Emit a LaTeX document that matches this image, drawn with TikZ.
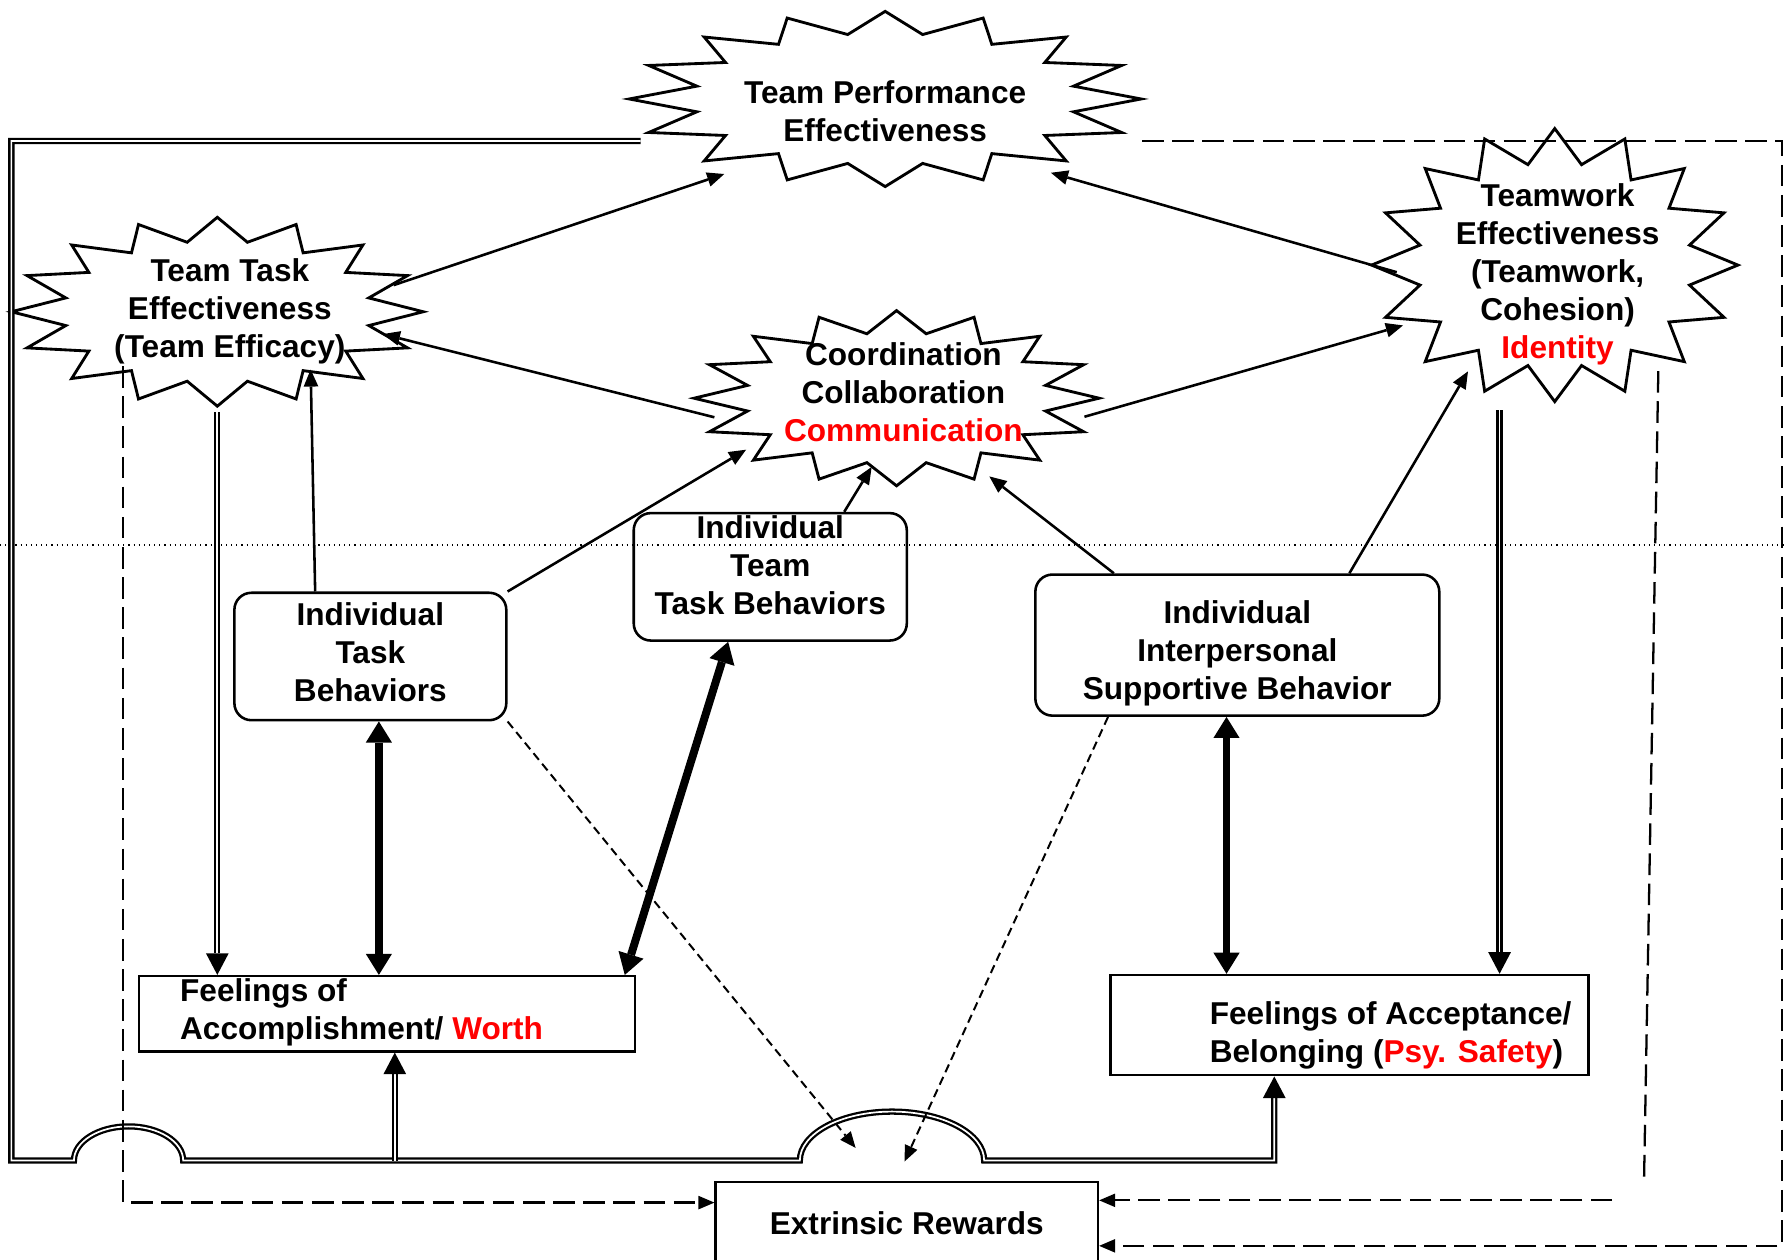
\documentclass[tikz,border=0pt]{standalone}
\usepackage{fontspec}
\setmainfont{Liberation Sans}
\usetikzlibrary{shapes.geometric,arrows.meta}

\tikzset{
  burst/.style={ellipse, inner sep=0pt},
  burstline/.style={line width=0.5mm},
  bursttext/.style={align=center, inner sep=0pt},
  behavbox/.style={draw, rounded corners=3mm, line width=0.45mm, align=center, inner sep=0pt},
  feelbox/.style={draw, line width=0.45mm, inner sep=0pt},
  feeltext/.style={align=left, inner sep=0pt, anchor=west},
  link/.style={line width=0.45mm, -{Triangle[length=3mm,width=2.6mm,line width=0pt]}},
  fatlink/.style={line width=1.4mm, {Triangle[length=3.7mm,width=4.6mm,line width=0pt]}-{Triangle[length=3.7mm,width=4.6mm,line width=0pt]}},
  dbl/.style={double, double distance=0.3mm, line width=0.4mm},
  dbltip/.style={-{Triangle[length=3.8mm,width=4mm,line width=0pt]}},
  longdash/.style={line width=0.4mm, dash pattern=on 3.8mm off 1.5mm},
  shortdash/.style={line width=0.35mm, dash pattern=on 1.5mm off 0.9mm},
  dashtip/.style={-{Triangle[length=2.8mm,width=2.4mm,line width=0pt]}}
}

% 16-point burst round a node: name, x radius, y radius
\newcommand\drawburst[3]{%
  \draw[burstline] ([shift={(90:#2 and #3)}]#1.center)
    \foreach \k [evaluate=\k as \rr using {1-0.25*mod(\k,2)}] in {1,...,31}
      { -- ([shift={({90+11.25*\k}:{#2*\rr} and {#3*\rr})}]#1.center) } -- cycle;
}

\begin{document}
\begin{tikzpicture}[x=0.2mm, y=-0.2mm, font=\fontsize{15.8}{19}\selectfont\bfseries]
  \useasboundingbox (0,0) rectangle (1568,1106.6);

  \draw[dotted, line width=0.2mm] (0,479) -- (1568,479);

  % outcomes
  \node[burst, minimum width=95.4mm, minimum height=32.6mm] (tpe) at (778,87) {};
  \node[burst, minimum width=76.8mm, minimum height=35.2mm] (tte) at (191,274) {};
  \node[burst, minimum width=75.5mm, minimum height=32.6mm] (ccc) at (788,350) {};
  \node[burst, minimum width=68.3mm, minimum height=50.9mm] (twe) at (1366.5,233) {};
  \drawburst{tpe}{225}{77}
  \drawburst{tte}{181}{83}
  \drawburst{ccc}{178}{77}
  \drawburst{twe}{161}{120}
  \node[bursttext] (tpe-t) at (778,98) {Team Performance\\Effectiveness};
  \node[bursttext] (tte-t) at (202,274) {Team Task\\Effectiveness\\(Team Efficacy)};
  \node[bursttext] (ccc-t) at (794,345) {Coordination\\Collaboration\\\textcolor{red}{Communication}};
  \node[bursttext] (twe-t) at (1369,241) {Teamwork\\Effectiveness\\(Teamwork,\\Cohesion)\\\textcolor{red}{Identity}};

  % behaviors
  \node[behavbox, minimum width=47.8mm, minimum height=22.4mm, text depth=1.6mm] (itb) at (325.5,577) {Individual\\Task\\Behaviors};
  \node[behavbox, minimum width=48mm, minimum height=22.4mm, text depth=4.2mm] (ittb) at (677,507) {Individual\\Team\\Task Behaviors};
  \node[behavbox, minimum width=71mm, minimum height=24.8mm, text height=20.3mm] (iisb) at (1087.5,567) {Individual\\Interpersonal\\Supportive Behavior};

  % feelings and rewards
  \node[feelbox, minimum width=87.2mm, minimum height=13.2mm] (fa) at (340,891) {};
  \node[feeltext] (fa-t) at (158,890) {Feelings of\\Accomplishment/ \textcolor{red}{Worth}};
  \node[feelbox, minimum width=84mm, minimum height=17.6mm] (fab) at (1186,901) {};
  \node[feeltext] (fab-t) at (1063,910) {Feelings of Acceptance/\\Belonging (\textcolor{red}{Psy. Safety})};
  \node[feelbox, minimum width=67.2mm, minimum height=14.6mm] (er) at (797,1075.5) {Extrinsic Rewards};

  % links upward
  \draw[link, shorten <=-5.2mm] (tte.10) -- (tpe.205);
  \draw[link, shorten <=-6.7mm] (twe.179) -- (tpe.336);
  \draw[link, shorten <=-5.7mm, shorten >=-7.5mm] (ccc.183) -- (tte.351);
  \draw[link, shorten <=-4.7mm, shorten >=-3.9mm] (ccc.357) -- (twe.201);
  \draw[link, shorten >=-5.8mm] ([xshift=-9.7mm]itb.north) -- (tte.316);
  \draw[link, shorten >=-2.9mm] (itb.north east) -- (ccc.200);
  \draw[link, shorten >=-4.7mm] ([xshift=13mm]ittb.north) -- (ccc.247);
  \draw[link, shorten >=-1.3mm] ([xshift=-21.7mm]iisb.north) -- (ccc.320);
  \draw[link, shorten >=-3.9mm] ([xshift=19.7mm]iisb.north) -- (twe.232);

  % feedback to feelings
  \draw[dbl, dbltip] (tte.south) -- (tte.south |- fa.north);
  \draw[dbl, dbltip] ([xshift=-9.7mm]twe.south) -- ([xshift=-9.7mm]twe.south |- fab.north);
  \draw[fatlink] ([xshift=1.5mm]itb.south) -- ([xshift=1.5mm]itb.south |- fa.north);
  \draw[fatlink] ([xshift=-7.4mm]ittb.south) -- ([xshift=-2mm]fa.north east);
  \draw[fatlink] ([xshift=-1.9mm]iisb.south) -- ([xshift=-1.9mm]iisb.south |- fab.north);

  % performance loop
  \coordinate (bus-nw) at (10,124);
  \coordinate (bus-sw) at (10,1020);
  \coordinate (bus-se) at (1120,1020);
  \coordinate (bus-fa) at (347,1020);
  \draw[dbl, dbltip] ([shift={(24,37)}]tpe.west) -- (bus-nw) -- (bus-sw) -- (65,1020)
    arc[start angle=180, end angle=0, x radius=9.6mm, y radius=6mm] -- (703,1020)
    arc[start angle=180, end angle=0, x radius=16.2mm, y radius=8.6mm] -- (bus-se) -- (bus-se |- fab.south);
  \draw[dbl, dbltip] (bus-fa) -- (bus-fa |- fa.south);

  % rewards
  \coordinate (rd-end) at (1445,1036);
  \coordinate (rd-start) at (1417,1055);
  \coordinate (dash-ne) at (1566,124);
  \draw[longdash, dashtip, shorten <=-6.4mm] (tte.224) |- ([yshift=3.7mm]er.west);
  \draw[shortdash, dashtip] (itb.south east) -- ([shift={(-45,-29)}]er.north);
  \draw[shortdash, dashtip] ([xshift=13mm]iisb.south west) -- ([shift={(-2,-17)}]er.north);
  \draw[longdash, shorten <=-3mm] (twe.310) -- (rd-end);
  \draw[longdash, dashtip] (rd-start) -- (rd-start -| er.east);
  \draw[longdash, dashtip] ([shift={(-13,37)}]tpe.east) -- (dash-ne) |- ([yshift=-3.9mm]er.east);
\end{tikzpicture}
\end{document}
